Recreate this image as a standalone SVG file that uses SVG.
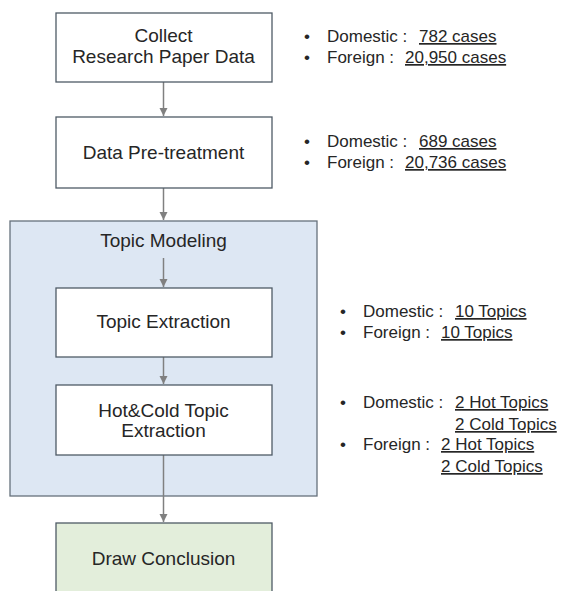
<svg xmlns="http://www.w3.org/2000/svg" width="566" height="591" viewBox="0 0 566 591">
<defs>
<style>
.box{fill:#fff;stroke:#4f5b66;stroke-width:1.3}
.t{font-family:"Liberation Sans",Arial,sans-serif;font-size:19px;fill:#262626;text-anchor:middle}
.n{font-family:"Liberation Sans",Arial,sans-serif;font-size:17px;fill:#262626}
.u{text-decoration:underline}
.c{stroke:#808080;stroke-width:1.5;fill:none}
</style>
<marker id="ah" markerWidth="10" markerHeight="10" refX="8" refY="4" orient="auto" markerUnits="userSpaceOnUse">
<path d="M0,0 L8,4 L0,8 Z" fill="#808080"/>
</marker>
</defs>
<rect width="566" height="591" fill="#fff"/>
<g id="topic-modeling">
<rect x="10" y="221" width="307" height="275" fill="#dde7f3" stroke="#66717c" stroke-width="1.3"/>
<text class="t" x="163.5" y="247">Topic Modeling</text>
</g>
<g id="connectors">
<line class="c" x1="163.5" y1="82" x2="163.5" y2="116" marker-end="url(#ah)"/>
<line class="c" x1="163.5" y1="188" x2="163.5" y2="220" marker-end="url(#ah)"/>
<line class="c" x1="163.5" y1="258" x2="163.5" y2="287" marker-end="url(#ah)"/>
<line class="c" x1="163.5" y1="357" x2="163.5" y2="384" marker-end="url(#ah)"/>
<line class="c" x1="163.5" y1="455" x2="163.5" y2="522" marker-end="url(#ah)"/>
</g>
<g id="collect">
<rect class="box" x="56" y="13" width="216" height="69"/>
<text class="t" x="163.5" y="42">Collect</text>
<text class="t" x="163.5" y="63">Research Paper Data</text>
</g>
<g id="pretreatment">
<rect class="box" x="56" y="117" width="216" height="71"/>
<text class="t" x="163.5" y="159">Data Pre-treatment</text>
</g>
<g id="topic-extraction">
<rect class="box" x="56" y="288" width="216" height="69"/>
<text class="t" x="163.5" y="328">Topic Extraction</text>
</g>
<g id="hotcold">
<rect class="box" x="56" y="385" width="216" height="70"/>
<text class="t" x="163.5" y="417">Hot&amp;Cold Topic</text>
<text class="t" x="163.5" y="437">Extraction</text>
</g>
<g id="conclusion">
<rect x="56" y="523" width="216" height="80" fill="#e3eedb" stroke="#4f5b66" stroke-width="1.3"/>
<text class="t" x="163.5" y="565">Draw Conclusion</text>
</g>
<g id="notes">
<text class="n" x="304" y="42">•</text>
<text class="n" x="327" y="42">Domestic :</text>
<text class="n u" x="419" y="42">782 cases</text>
<text class="n" x="304" y="63">•</text>
<text class="n" x="327" y="63">Foreign :</text>
<text class="n u" x="405" y="63">20,950 cases</text>

<text class="n" x="304" y="147">•</text>
<text class="n" x="327" y="147">Domestic :</text>
<text class="n u" x="419" y="147">689 cases</text>
<text class="n" x="304" y="168">•</text>
<text class="n" x="327" y="168">Foreign :</text>
<text class="n u" x="405" y="168">20,736 cases</text>

<text class="n" x="340" y="317">•</text>
<text class="n" x="363" y="317">Domestic :</text>
<text class="n u" x="455" y="317">10 Topics</text>
<text class="n" x="340" y="338">•</text>
<text class="n" x="363" y="338">Foreign :</text>
<text class="n u" x="441" y="338">10 Topics</text>

<text class="n" x="340" y="408">•</text>
<text class="n" x="363" y="408">Domestic :</text>
<text class="n u" x="455" y="408">2 Hot Topics</text>
<text class="n u" x="455" y="430">2 Cold Topics</text>
<text class="n" x="340" y="450">•</text>
<text class="n" x="363" y="450">Foreign :</text>
<text class="n u" x="441" y="450">2 Hot Topics</text>
<text class="n u" x="441" y="472">2 Cold Topics</text>
</g>
</svg>
